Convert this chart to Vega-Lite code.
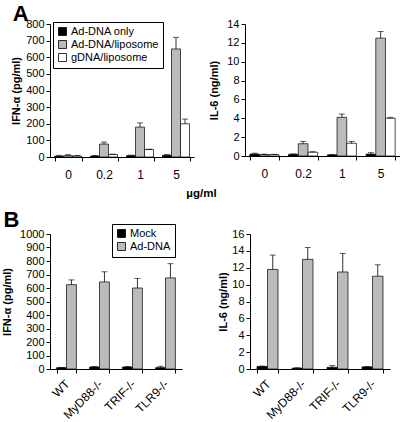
{
  "$schema": "https://vega.github.io/schema/vega-lite/v6.json",
  "padding": {"left": 1, "top": 3, "right": 0, "bottom": 0},
  "background": "white",
  "config": {
    "font": "Liberation Sans",
    "view": {"stroke": null},
    "axis": {"grid": false, "domain": true, "ticks": true, "domainColor": "black", "tickColor": "black", "tickSize": 4, "labelFont": "Liberation Sans", "labelFontSize": 11, "labelColor": "black", "titleFont": "Liberation Sans", "titleFontSize": 11, "titleFontWeight": "bold", "titleColor": "black"},
    "legend": {"labelFont": "Liberation Sans", "labelFontSize": 11, "labelColor": "black", "symbolType": "square", "symbolSize": 64, "symbolStrokeColor": "black", "symbolStrokeWidth": 0.8, "strokeColor": "black", "fillColor": "white", "padding": 4, "rowPadding": 0, "labelOffset": 3, "title": null},
    "title": {"font": "Liberation Sans", "fontSize": 22, "fontWeight": "bold", "color": "black"}
  },
  "datasets": {
    "a": [
      {"dose": "0", "treat": "Ad-DNA only", "ifn": 5, "ifnHi": 10, "il6": 0.2, "il6Hi": 0.3},
      {"dose": "0", "treat": "Ad-DNA/liposome", "ifn": 8, "ifnHi": 14, "il6": 0.15, "il6Hi": 0.2},
      {"dose": "0", "treat": "gDNA/liposome", "ifn": 6, "ifnHi": 9, "il6": 0.15, "il6Hi": 0.18},
      {"dose": "0.2", "treat": "Ad-DNA only", "ifn": 6, "ifnHi": 9, "il6": 0.18, "il6Hi": 0.22},
      {"dose": "0.2", "treat": "Ad-DNA/liposome", "ifn": 78, "ifnHi": 90, "il6": 1.3, "il6Hi": 1.55},
      {"dose": "0.2", "treat": "gDNA/liposome", "ifn": 15, "ifnHi": 17, "il6": 0.4, "il6Hi": 0.45},
      {"dose": "1", "treat": "Ad-DNA only", "ifn": 8, "ifnHi": 11, "il6": 0.12, "il6Hi": 0.15},
      {"dose": "1", "treat": "Ad-DNA/liposome", "ifn": 180, "ifnHi": 205, "il6": 4.1, "il6Hi": 4.45},
      {"dose": "1", "treat": "gDNA/liposome", "ifn": 45, "ifnHi": 47, "il6": 1.35, "il6Hi": 1.55},
      {"dose": "5", "treat": "Ad-DNA only", "ifn": 10, "ifnHi": 15, "il6": 0.2, "il6Hi": 0.35},
      {"dose": "5", "treat": "Ad-DNA/liposome", "ifn": 650, "ifnHi": 720, "il6": 12.5, "il6Hi": 13.2},
      {"dose": "5", "treat": "gDNA/liposome", "ifn": 200, "ifnHi": 228, "il6": 4.0, "il6Hi": 4.1}
    ],
    "b": [
      {"strain": "WT", "cond": "Mock", "ifn": 10, "ifnHi": 12, "il6": 0.3, "il6Hi": 0.35},
      {"strain": "WT", "cond": "Ad-DNA", "ifn": 625, "ifnHi": 660, "il6": 11.8, "il6Hi": 13.5},
      {"strain": "MyD88-/-", "cond": "Mock", "ifn": 15, "ifnHi": 18, "il6": 0.1, "il6Hi": 0.15},
      {"strain": "MyD88-/-", "cond": "Ad-DNA", "ifn": 645, "ifnHi": 720, "il6": 13.0, "il6Hi": 14.4},
      {"strain": "TRIF-/-", "cond": "Mock", "ifn": 15, "ifnHi": 18, "il6": 0.2, "il6Hi": 0.4},
      {"strain": "TRIF-/-", "cond": "Ad-DNA", "ifn": 600, "ifnHi": 670, "il6": 11.5, "il6Hi": 13.7},
      {"strain": "TLR9-/-", "cond": "Mock", "ifn": 10, "ifnHi": 20, "il6": 0.25, "il6Hi": 0.3},
      {"strain": "TLR9-/-", "cond": "Ad-DNA", "ifn": 675, "ifnHi": 780, "il6": 11.0, "il6Hi": 12.35}
    ]
  },
  "spacing": 9,
  "resolve": {"scale": {"color": "independent", "x": "independent", "y": "independent", "xOffset": "independent"}, "legend": {"color": "independent"}},
  "vconcat": [
    {
      "bounds": "flush",
      "spacing": 51,
      "resolve": {"scale": {"color": "independent", "x": "independent", "y": "independent", "xOffset": "independent"}, "legend": {"color": "independent"}},
      "hconcat": [
        {
          "width": 144, "height": 133,
          "title": {"text": "A", "anchor": "start", "frame": "bounds", "dx": 2, "dy": 8, "offset": 0},
          "data": {"name": "a"},
          "encoding": {
            "x": {"field": "dose", "type": "nominal", "sort": ["0", "0.2", "1", "5"], "scale": {"paddingInner": 0.25, "paddingOuter": 0.125},
              "axis": {"title": "µg/ml", "titleX": 151, "titleY": 36, "titleBaseline": "middle", "titleFontSize": 11.5, "labelAngle": 0, "labelPadding": 8, "labelFontSize": 12, "tickBand": "extent", "tickSize": 4}},
            "xOffset": {"field": "treat", "type": "nominal", "sort": ["Ad-DNA only", "Ad-DNA/liposome", "gDNA/liposome"], "scale": {"paddingInner": 0, "paddingOuter": 0}}
          },
          "layer": [
            {"mark": {"type": "bar", "stroke": "black", "strokeWidth": 0.7},
              "encoding": {
                "y": {"field": "ifn", "type": "quantitative", "scale": {"domain": [0, 800]}, "axis": {"title": "IFN-α (pg/ml)", "values": [0, 100, 200, 300, 400, 500, 600, 700, 800], "format": "d", "titlePadding": 4, "labelPadding": 2}},
                "color": {"field": "treat", "type": "nominal", "sort": ["Ad-DNA only", "Ad-DNA/liposome", "gDNA/liposome"], "scale": {"domain": ["Ad-DNA only", "Ad-DNA/liposome", "gDNA/liposome"], "range": ["#000000", "#bbbbbb", "#ffffff"]},
                  "legend": {"orient": "none", "legendX": 3, "legendY": -2, "direction": "vertical"}}
              }},
            {"mark": {"type": "rule", "color": "black", "strokeWidth": 0.8},
              "encoding": {"y": {"field": "ifn", "type": "quantitative", "axis": {"title": "IFN-α (pg/ml)", "values": [0, 100, 200, 300, 400, 500, 600, 700, 800], "format": "d", "titlePadding": 4, "labelPadding": 2}}, "y2": {"field": "ifnHi"}}},
            {"mark": {"type": "tick", "color": "black", "thickness": 0.9, "size": 6},
              "encoding": {"y": {"field": "ifnHi", "type": "quantitative", "axis": {"title": "IFN-α (pg/ml)", "values": [0, 100, 200, 300, 400, 500, 600, 700, 800], "format": "d", "titlePadding": 4, "labelPadding": 2}}}}
          ]
        },
        {
          "width": 155, "height": 132,
          "data": {"name": "a"},
          "encoding": {
            "x": {"field": "dose", "type": "nominal", "sort": ["0", "0.2", "1", "5"], "scale": {"paddingInner": 0.25, "paddingOuter": 0.125},
              "axis": {"title": null, "labelAngle": 0, "labelPadding": 8, "labelFontSize": 12, "tickBand": "extent", "tickSize": 4}},
            "xOffset": {"field": "treat", "type": "nominal", "sort": ["Ad-DNA only", "Ad-DNA/liposome", "gDNA/liposome"], "scale": {"paddingInner": 0, "paddingOuter": 0}}
          },
          "layer": [
            {"mark": {"type": "bar", "stroke": "black", "strokeWidth": 0.7},
              "encoding": {
                "y": {"field": "il6", "type": "quantitative", "scale": {"domain": [0, 14]}, "axis": {"title": "IL-6 (ng/ml)", "values": [0, 2, 4, 6, 8, 10, 12, 14], "titlePadding": 7, "labelPadding": 2}},
                "color": {"field": "treat", "type": "nominal", "scale": {"domain": ["Ad-DNA only", "Ad-DNA/liposome", "gDNA/liposome"], "range": ["#000000", "#bbbbbb", "#ffffff"]}, "legend": null}
              }},
            {"mark": {"type": "rule", "color": "black", "strokeWidth": 0.8},
              "encoding": {"y": {"field": "il6", "type": "quantitative", "axis": {"title": "IL-6 (ng/ml)", "values": [0, 2, 4, 6, 8, 10, 12, 14], "titlePadding": 7, "labelPadding": 2}}, "y2": {"field": "il6Hi"}}},
            {"mark": {"type": "tick", "color": "black", "thickness": 0.9, "size": 6},
              "encoding": {"y": {"field": "il6Hi", "type": "quantitative", "axis": {"title": "IL-6 (ng/ml)", "values": [0, 2, 4, 6, 8, 10, 12, 14], "titlePadding": 7, "labelPadding": 2}}}}
          ]
        }
      ]
    },
    {
      "bounds": "flush",
      "spacing": 68,
      "resolve": {"scale": {"color": "independent", "x": "independent", "y": "independent", "xOffset": "independent"}, "legend": {"color": "independent"}},
      "hconcat": [
        {
          "width": 132, "height": 135,
          "title": {"text": "B", "anchor": "start", "frame": "bounds", "dx": 2, "dy": 8, "offset": 0},
          "data": {"name": "b"},
          "encoding": {
            "x": {"field": "strain", "type": "nominal", "sort": ["WT", "MyD88-/-", "TRIF-/-", "TLR9-/-"], "scale": {"paddingInner": 0.4, "paddingOuter": 0.2},
              "axis": {"title": null, "labelAngle": -45, "labelAlign": "right", "labelBaseline": "top", "labelPadding": 5, "labelOffset": -3, "labelFontSize": 12, "tickBand": "extent", "tickSize": 4}},
            "xOffset": {"field": "cond", "type": "nominal", "sort": ["Mock", "Ad-DNA"], "scale": {"paddingInner": 0, "paddingOuter": 0}}
          },
          "layer": [
            {"mark": {"type": "bar", "stroke": "black", "strokeWidth": 0.7},
              "encoding": {
                "y": {"field": "ifn", "type": "quantitative", "scale": {"domain": [0, 1000]}, "axis": {"title": "IFN-α (pg/ml)", "values": [0, 100, 200, 300, 400, 500, 600, 700, 800, 900, 1000], "format": "d", "titlePadding": 7, "labelPadding": 2}},
                "color": {"field": "cond", "type": "nominal", "sort": ["Mock", "Ad-DNA"], "scale": {"domain": ["Mock", "Ad-DNA"], "range": ["#000000", "#bbbbbb"]},
                  "legend": {"orient": "none", "legendX": 62, "legendY": -10, "direction": "vertical"}}
              }},
            {"mark": {"type": "rule", "color": "black", "strokeWidth": 0.8},
              "encoding": {"y": {"field": "ifn", "type": "quantitative", "axis": {"title": "IFN-α (pg/ml)", "values": [0, 100, 200, 300, 400, 500, 600, 700, 800, 900, 1000], "format": "d", "titlePadding": 7, "labelPadding": 2}}, "y2": {"field": "ifnHi"}}},
            {"mark": {"type": "tick", "color": "black", "thickness": 0.9, "size": 6},
              "encoding": {"y": {"field": "ifnHi", "type": "quantitative", "axis": {"title": "IFN-α (pg/ml)", "values": [0, 100, 200, 300, 400, 500, 600, 700, 800, 900, 1000], "format": "d", "titlePadding": 7, "labelPadding": 2}}}}
          ]
        },
        {
          "width": 140, "height": 135,
          "data": {"name": "b"},
          "encoding": {
            "x": {"field": "strain", "type": "nominal", "sort": ["WT", "MyD88-/-", "TRIF-/-", "TLR9-/-"], "scale": {"paddingInner": 0.4, "paddingOuter": 0.2},
              "axis": {"title": null, "labelAngle": -45, "labelAlign": "right", "labelBaseline": "top", "labelPadding": 5, "labelOffset": -3, "labelFontSize": 12, "tickBand": "extent", "tickSize": 4}},
            "xOffset": {"field": "cond", "type": "nominal", "sort": ["Mock", "Ad-DNA"], "scale": {"paddingInner": 0, "paddingOuter": 0}}
          },
          "layer": [
            {"mark": {"type": "bar", "stroke": "black", "strokeWidth": 0.7},
              "encoding": {
                "y": {"field": "il6", "type": "quantitative", "scale": {"domain": [0, 16]}, "axis": {"title": "IL-6 (ng/ml)", "values": [0, 2, 4, 6, 8, 10, 12, 14, 16], "titlePadding": 3, "labelPadding": 2}},
                "color": {"field": "cond", "type": "nominal", "scale": {"domain": ["Mock", "Ad-DNA"], "range": ["#000000", "#bbbbbb"]}, "legend": null}
              }},
            {"mark": {"type": "rule", "color": "black", "strokeWidth": 0.8},
              "encoding": {"y": {"field": "il6", "type": "quantitative", "axis": {"title": "IL-6 (ng/ml)", "values": [0, 2, 4, 6, 8, 10, 12, 14, 16], "titlePadding": 3, "labelPadding": 2}}, "y2": {"field": "il6Hi"}}},
            {"mark": {"type": "tick", "color": "black", "thickness": 0.9, "size": 6},
              "encoding": {"y": {"field": "il6Hi", "type": "quantitative", "axis": {"title": "IL-6 (ng/ml)", "values": [0, 2, 4, 6, 8, 10, 12, 14, 16], "titlePadding": 3, "labelPadding": 2}}}}
          ]
        }
      ]
    }
  ]
}
